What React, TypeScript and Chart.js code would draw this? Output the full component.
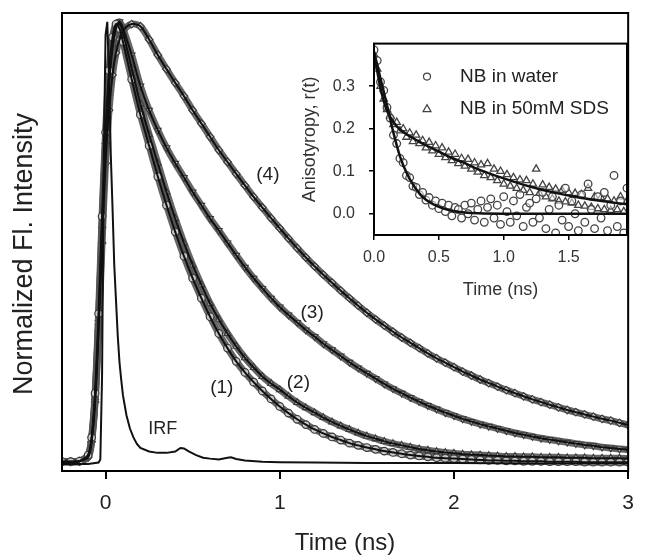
import React, { useEffect, useRef } from "react";
import { Chart, registerables } from "chart.js";
Chart.register(...registerables);

const FONT = "'Liberation Sans', Arial, sans-serif";

// ---------- main panel data ----------
const mainTime = [
  -0.25, -0.2, -0.15, -0.1, -0.08, -0.06, -0.04, -0.02, 0, 0.02, 0.04, 0.06, 0.08, 0.1,
  0.15, 0.2, 0.25, 0.3, 0.35, 0.4, 0.45, 0.5, 0.55, 0.6, 0.65, 0.7, 0.75, 0.8, 0.85, 0.9, 0.95, 1.0,
  1.05, 1.1, 1.15, 1.2, 1.25, 1.3, 1.35, 1.4, 1.45, 1.5, 1.55, 1.6, 1.65, 1.7, 1.75, 1.8, 1.85, 1.9, 1.95, 2.0,
  2.05, 2.1, 2.15, 2.2, 2.25, 2.3, 2.35, 2.4, 2.45, 2.5, 2.55, 2.6, 2.65, 2.7, 2.75, 2.8, 2.85, 2.9, 2.95, 3.0,
];
const curve1 = [
  0.005, 0.005, 0.006, 0.02, 0.06, 0.16, 0.34, 0.56, 0.75, 0.89, 0.965, 0.995, 0.985, 0.955,
  0.87, 0.79, 0.72, 0.65, 0.585, 0.525, 0.47, 0.42, 0.375, 0.333, 0.295, 0.262, 0.232, 0.207, 0.185, 0.165, 0.147, 0.13,
  0.115, 0.101, 0.089, 0.078, 0.069, 0.061, 0.054, 0.047, 0.042, 0.037, 0.033, 0.029, 0.026, 0.023, 0.02, 0.018, 0.016, 0.014, 0.013, 0.012,
  0.011, 0.01, 0.009, 0.008, 0.008, 0.007, 0.007, 0.006, 0.006, 0.006, 0.005, 0.005, 0.005, 0.005, 0.004, 0.004, 0.004, 0.004, 0.004, 0.004,
];
const curve2 = [
  0.005, 0.005, 0.006, 0.02, 0.055, 0.15, 0.32, 0.54, 0.73, 0.87, 0.95, 0.99, 0.995, 0.975,
  0.895, 0.815, 0.745, 0.68, 0.615, 0.555, 0.5, 0.45, 0.405, 0.363, 0.327, 0.295, 0.266, 0.24, 0.218, 0.198, 0.182, 0.168,
  0.153, 0.139, 0.127, 0.116, 0.105, 0.095, 0.086, 0.078, 0.07, 0.063, 0.057, 0.051, 0.046, 0.042, 0.038, 0.034, 0.031, 0.028, 0.026, 0.024,
  0.022, 0.021, 0.02, 0.019, 0.018, 0.017, 0.017, 0.016, 0.016, 0.015, 0.015, 0.015, 0.014, 0.014, 0.014, 0.013, 0.013, 0.013, 0.013, 0.012,
];
const curve3 = [
  0.005, 0.005, 0.006, 0.018, 0.055, 0.15, 0.32, 0.53, 0.72, 0.86, 0.94, 0.985, 1.0, 0.985,
  0.925, 0.855, 0.8, 0.755, 0.715, 0.68, 0.648, 0.615, 0.585, 0.555, 0.528, 0.5, 0.472, 0.445, 0.42, 0.397, 0.375, 0.355,
  0.337, 0.32, 0.303, 0.288, 0.272, 0.258, 0.244, 0.23, 0.217, 0.205, 0.193, 0.181, 0.17, 0.16, 0.15, 0.141, 0.132, 0.124, 0.116, 0.109,
  0.102, 0.096, 0.09, 0.085, 0.08, 0.075, 0.07, 0.066, 0.062, 0.058, 0.055, 0.052, 0.049, 0.046, 0.043, 0.041, 0.038, 0.036, 0.034, 0.032,
];
const curve4 = [
  0.005, 0.005, 0.006, 0.015, 0.05, 0.14, 0.3, 0.5, 0.68, 0.8, 0.88, 0.93, 0.96, 0.98,
  0.995, 0.99, 0.96, 0.925, 0.893, 0.862, 0.832, 0.8, 0.77, 0.74, 0.71, 0.683, 0.656, 0.63, 0.604, 0.58, 0.556, 0.533,
  0.51, 0.488, 0.467, 0.447, 0.428, 0.41, 0.392, 0.375, 0.358, 0.342, 0.327, 0.313, 0.299, 0.286, 0.274, 0.262, 0.25, 0.239, 0.229, 0.219,
  0.209, 0.2, 0.191, 0.183, 0.175, 0.167, 0.16, 0.153, 0.146, 0.14, 0.134, 0.128, 0.122, 0.117, 0.112, 0.107, 0.102, 0.098, 0.093, 0.088,
];
const irfTime = [
  -0.25, -0.1, -0.04, -0.03, -0.02, -0.01, 0, 0.01, 0.02, 0.03, 0.04, 0.05, 0.06, 0.07, 0.08, 0.09, 0.1,
  0.12, 0.14, 0.16, 0.18, 0.2, 0.25, 0.3, 0.35, 0.4, 0.43, 0.45, 0.48, 0.52, 0.56, 0.6, 0.65, 0.7, 0.72,
  0.75, 0.8, 0.9, 1.0, 1.2, 1.5, 2.0, 2.5, 3.0,
];
const irfValues = [
  0.0, 0.0, 0.003, 0.01, 0.2, 0.7, 0.97, 1.0, 0.88, 0.7, 0.58, 0.45, 0.37, 0.29, 0.23, 0.19, 0.155,
  0.11, 0.08, 0.06, 0.045, 0.036, 0.028, 0.025, 0.025, 0.028, 0.036, 0.035, 0.028, 0.02, 0.014, 0.012, 0.01, 0.014, 0.015,
  0.011, 0.008, 0.005, 0.004, 0.003, 0.002, 0.002, 0.001, 0.001,
];
const xTicks = [0, 1, 2, 3];
const curveLabels = ["(1)", "(2)", "(3)", "(4)", "IRF"];
const curveLabelX = [0.667, 1.107, 1.186, 0.932, 0.328];
const curveLabelY = [0.172, 0.184, 0.342, 0.653, 0.079];

// ---------- inset data ----------
const insetTime = [
  0, 0.025, 0.05, 0.075, 0.1, 0.125, 0.15, 0.175, 0.2, 0.225, 0.25, 0.275, 0.3, 0.325, 0.35, 0.375, 0.4,
  0.425, 0.45, 0.475, 0.5, 0.525, 0.55, 0.575, 0.6, 0.625, 0.65, 0.675, 0.7, 0.725, 0.75, 0.775, 0.8,
  0.825, 0.85, 0.875, 0.9, 0.925, 0.95, 0.975, 1.0, 1.025, 1.05, 1.075, 1.1, 1.125, 1.15, 1.175, 1.2,
  1.225, 1.25, 1.275, 1.3, 1.325, 1.35, 1.375, 1.4, 1.425, 1.45, 1.475, 1.5, 1.525, 1.55, 1.575, 1.6,
  1.625, 1.65, 1.675, 1.7, 1.725, 1.75, 1.775, 1.8, 1.825, 1.85, 1.875, 1.9, 1.925, 1.95,
];
const waterValues = [
  0.385, 0.36, 0.31, 0.29, 0.25, 0.225, 0.185, 0.165, 0.13, 0.12, 0.09, 0.085, 0.065, 0.062, 0.045, 0.05, 0.032,
  0.038, 0.02, 0.03, 0.012, 0.025, 0.005, 0.02, -0.005, 0.015, 0.01, -0.01, 0.02, 0.0, 0.025, -0.015, 0.01,
  0.03, -0.02, 0.015, 0.035, -0.01, 0.02, -0.025, 0.04, 0.005, -0.02, 0.03, -0.005, 0.045, -0.03, 0.015, 0.025,
  -0.02, 0.035, -0.01, 0.05, -0.035, 0.01, 0.04, -0.045, 0.02, -0.015, 0.06, -0.03, 0.03, 0.0, -0.04, 0.045,
  -0.02, 0.07, 0.01, -0.035, 0.04, -0.01, 0.05, -0.04, 0.02, 0.09, -0.03, 0.03, -0.045, 0.06,
];
const sdsValues = [
  0.375, 0.34, 0.3, 0.27, 0.245, 0.23, 0.21, 0.215, 0.195, 0.2, 0.18, 0.19, 0.17, 0.185, 0.165, 0.172, 0.155,
  0.168, 0.148, 0.16, 0.14, 0.155, 0.132, 0.145, 0.125, 0.14, 0.118, 0.13, 0.112, 0.128, 0.105, 0.12, 0.098,
  0.115, 0.09, 0.118, 0.085, 0.105, 0.078, 0.1, 0.07, 0.092, 0.065, 0.085, 0.06, 0.08, 0.055, 0.078, 0.05,
  0.07, 0.105, 0.048, 0.068, 0.04, 0.062, 0.035, 0.058, 0.03, 0.055, 0.028, 0.05, 0.025, 0.048, 0.02, 0.045,
  0.018, 0.06, 0.015, 0.04, 0.012, 0.038, 0.01, 0.035, 0.008, 0.03, 0.01, 0.04, 0.005, 0.03,
];
const insetFitTime = [0, 0.025, 0.05, 0.075, 0.1, 0.15, 0.2, 0.25, 0.3, 0.35, 0.4, 0.5, 0.6, 0.7, 0.8, 1.0, 1.2, 1.4, 1.6, 1.8, 1.95];
const waterFit = [0.38, 0.35, 0.318, 0.287, 0.255, 0.19, 0.135, 0.097, 0.069, 0.048, 0.033, 0.016, 0.007, 0.003, 0.001, 0, 0, 0, 0, 0, 0];
const sdsFit = [0.38, 0.335, 0.295, 0.265, 0.242, 0.215, 0.198, 0.187, 0.178, 0.169, 0.161, 0.146, 0.131, 0.119, 0.105, 0.083, 0.064, 0.049, 0.037, 0.028, 0.022];
const insetXTicks = [0, 0.5, 1.0, 1.5];
const insetYTicks = [0, 0.1, 0.2, 0.3];
const insetSeriesNames = ["NB in water", "NB in 50mM SDS"];

const pts = (xs: number[], ys: number[]) => xs.map((x, i) => ({ x, y: ys[i] }));

export default function App() {
  const mainRef = useRef<HTMLCanvasElement>(null);
  const insetRef = useRef<HTMLCanvasElement>(null);

  useEffect(() => {
    const curves = [curve1, curve2, curve3, curve4];
    const styles: any[] = [
      { ps: "circle", rot: 0 },
      { ps: "triangle", rot: 0 },
      { ps: "triangle", rot: 180 },
      { ps: "rectRot", rot: 0 },
    ];
    const datasets: any[] = [];
    curves.forEach((c, i) => {
      datasets.push({
        data: pts(mainTime, c),
        showLine: true,
        borderColor: "#111",
        borderWidth: 2,
        pointRadius: 0,
        tension: 0.3,
        order: 0,
      });
      datasets.push({
        data: pts(mainTime, c),
        showLine: true,
        borderColor: "rgba(85,85,85,0.9)",
        borderWidth: 7,
        tension: 0.3,
        pointStyle: styles[i].ps,
        rotation: styles[i].rot,
        pointRadius: 3.8,
        pointBorderWidth: 1.2,
        pointBorderColor: "#3a3a3a",
        pointBackgroundColor: "#c8c8c8",
        order: 1,
      });
    });
    datasets.push({
      data: pts(irfTime, irfValues),
      showLine: true,
      borderColor: "#111",
      borderWidth: 2,
      pointRadius: 0,
      tension: 0,
      order: 0,
    });

    const mainPlugin = {
      id: "mainDeco",
      afterDraw(chart: any) {
        const { ctx, chartArea: a, scales } = chart;
        ctx.save();
        ctx.strokeStyle = "#000";
        ctx.lineWidth = 2;
        ctx.strokeRect(a.left, a.top, a.right - a.left, a.bottom - a.top);
        ctx.fillStyle = "#222";
        ctx.textAlign = "center";
        ctx.textBaseline = "middle";
        curveLabels.forEach((t, i) => {
          ctx.font = `${t === "IRF" ? 18 : 19}px ${FONT}`;
          ctx.fillText(t, scales.x.getPixelForValue(curveLabelX[i]), scales.y.getPixelForValue(curveLabelY[i]));
        });
        // y axis title
        ctx.save();
        ctx.translate(25, 254);
        ctx.rotate(-Math.PI / 2);
        ctx.font = `27px ${FONT}`;
        ctx.fillText("Normalized Fl. Intensity", 0, 0);
        ctx.restore();
        ctx.restore();
      },
    };

    const main = new Chart(mainRef.current!, {
      type: "scatter",
      data: { datasets },
      options: {
        animation: false,
        responsive: false,
        devicePixelRatio: 1,
        layout: { padding: { left: 0, right: 8, top: 13, bottom: 0 } },
        plugins: { legend: { display: false }, tooltip: { enabled: false } },
        scales: {
          x: {
            type: "linear",
            min: -0.25,
            max: 3,
            afterBuildTicks: (s: any) => {
              s.ticks = xTicks.map((v) => ({ value: v }));
            },
            ticks: { font: { family: FONT, size: 21 }, color: "#222", padding: 12, callback: (v: any) => String(v) },
            grid: { drawOnChartArea: false, drawTicks: true, tickLength: 8, color: "#000", lineWidth: 2 },
            border: { display: false },
            title: { display: true, text: "Time (ns)", font: { family: FONT, size: 24 }, color: "#222", padding: { top: 0, bottom: 0 } },
            afterFit: (s: any) => {
              s.height = 87;
            },
          },
          y: {
            type: "linear",
            min: -0.016,
            max: 1.02,
            ticks: { display: false },
            grid: { display: false },
            border: { display: false },
            title: { display: false },
            afterFit: (s: any) => {
              s.width = 62;
            },
          },
        },
      },
      plugins: [mainPlugin],
    } as any);

    const insetPlugin = {
      id: "insetDeco",
      beforeDatasetsDraw(chart: any) {
        const { ctx, chartArea: a } = chart;
        ctx.save();
        ctx.fillStyle = "#fff";
        ctx.fillRect(a.left, a.top, a.right - a.left, a.bottom - a.top);
        ctx.restore();
      },
      afterDraw(chart: any) {
        const { ctx, chartArea: a } = chart;
        ctx.save();
        ctx.strokeStyle = "#000";
        ctx.lineWidth = 2;
        ctx.strokeRect(a.left, a.top, a.right - a.left, a.bottom - a.top);
        // legend
        const lx = a.left + 53;
        const ly = [a.top + 33, a.top + 65];
        ctx.lineWidth = 1.2;
        ctx.strokeStyle = "#444";
        ctx.beginPath();
        ctx.arc(lx, ly[0], 3.5, 0, Math.PI * 2);
        ctx.stroke();
        ctx.beginPath();
        ctx.moveTo(lx, ly[1] - 4);
        ctx.lineTo(lx + 4, ly[1] + 3);
        ctx.lineTo(lx - 4, ly[1] + 3);
        ctx.closePath();
        ctx.stroke();
        ctx.fillStyle = "#222";
        ctx.font = `19px ${FONT}`;
        ctx.textAlign = "left";
        ctx.textBaseline = "middle";
        insetSeriesNames.forEach((n, i) => ctx.fillText(n, lx + 33, ly[i]));
        ctx.restore();
      },
    };

    const inset = new Chart(insetRef.current!, {
      type: "scatter",
      data: {
        datasets: [
          { data: pts(insetFitTime, waterFit), showLine: true, borderColor: "#111", borderWidth: 2.5, pointRadius: 0, tension: 0.3, order: 0 },
          { data: pts(insetFitTime, sdsFit), showLine: true, borderColor: "#111", borderWidth: 2.5, pointRadius: 0, tension: 0.3, order: 0 },
          {
            data: pts(insetTime, waterValues),
            pointStyle: "circle",
            pointRadius: 3.8,
            pointBorderWidth: 1.3,
            pointBorderColor: "#444",
            pointBackgroundColor: "rgba(255,255,255,0.5)",
            order: 1,
          },
          {
            data: pts(insetTime, sdsValues),
            pointStyle: "triangle",
            pointRadius: 4.2,
            pointBorderWidth: 1.3,
            pointBorderColor: "#444",
            pointBackgroundColor: "rgba(255,255,255,0.5)",
            order: 1,
          },
        ],
      },
      options: {
        animation: false,
        responsive: false,
        devicePixelRatio: 1,
        layout: { padding: { left: 0, right: 13, top: 5, bottom: 0 } },
        plugins: { legend: { display: false }, tooltip: { enabled: false } },
        scales: {
          x: {
            type: "linear",
            min: 0,
            max: 1.95,
            afterBuildTicks: (s: any) => {
              s.ticks = insetXTicks.map((v) => ({ value: v }));
            },
            ticks: { font: { family: FONT, size: 16 }, color: "#333", padding: 8, callback: (v: any) => Number(v).toFixed(1) },
            grid: { drawOnChartArea: false, drawTicks: true, tickLength: 5, color: "#000", lineWidth: 1.5 },
            border: { display: false },
            title: { display: true, text: "Time (ns)", font: { family: FONT, size: 18 }, color: "#333", padding: { top: 0, bottom: 9 } },
            afterFit: (s: any) => {
              s.height = 75;
            },
          },
          y: {
            type: "linear",
            min: -0.05,
            max: 0.4,
            afterBuildTicks: (s: any) => {
              s.ticks = insetYTicks.map((v) => ({ value: v }));
            },
            ticks: { font: { family: FONT, size: 16 }, color: "#333", padding: 14, callback: (v: any) => Number(v).toFixed(1) },
            grid: { drawOnChartArea: false, drawTicks: true, tickLength: 5, color: "#000", lineWidth: 1.5 },
            border: { display: false },
            title: { display: true, text: "Anisotyropy, r(t)", font: { family: FONT, size: 18 }, color: "#333", padding: { top: 9, bottom: 0 } },
            afterFit: (s: any) => {
              s.width = 84;
            },
          },
        },
      },
      plugins: [insetPlugin],
    } as any);

    return () => {
      main.destroy();
      inset.destroy();
    };
  }, []);

  return (
    <div style={{ position: "absolute", left: 0, top: 0, width: 646, height: 558, background: "#fff" }}>
      <canvas ref={mainRef} width={646} height={558} style={{ position: "absolute", left: 0, top: 0 }} />
      <canvas ref={insetRef} width={350} height={290} style={{ position: "absolute", left: 290, top: 20 }} />
    </div>
  );
}
